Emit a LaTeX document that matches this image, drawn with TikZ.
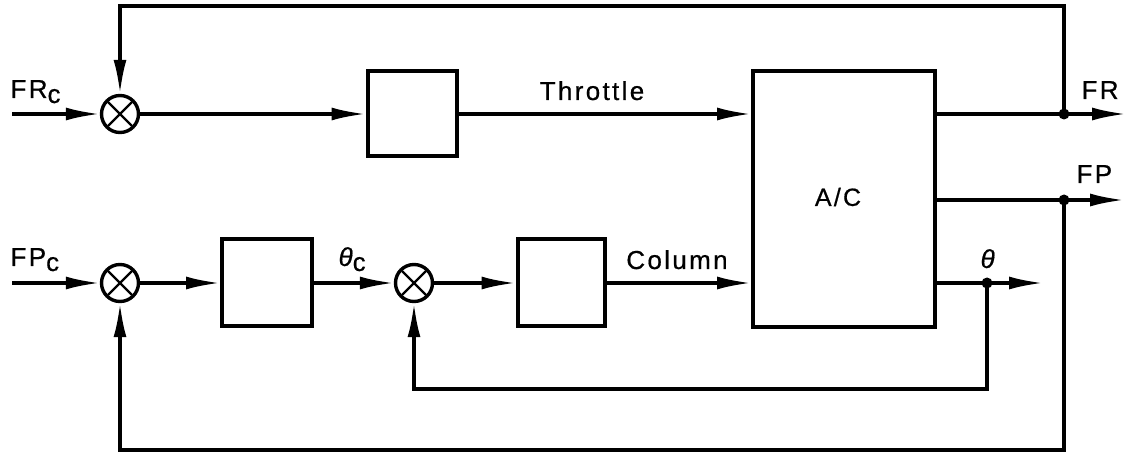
\documentclass[tikz,border=0pt]{standalone}
\usepackage{fontspec}
\setmainfont{Liberation Sans}[LetterSpace=9,FakeBold=0.6]
\usetikzlibrary{arrows.meta}
\newcommand{\subc}{\raisebox{-5pt}{c}}
\begin{document}
\begin{tikzpicture}[x=1pt,y=-1pt,
  line width=3.2pt,
  >={Latex[length=34pt,width=13pt]},
  sumnode/.style={circle,draw,line width=3.4pt,minimum size=37pt,inner sep=0pt},
  blk/.style={rectangle,draw,line width=4pt,inner sep=0pt},
  dotnode/.style={circle,fill,inner sep=0pt,minimum size=11pt},
  lbl/.style={font=\fontsize{26}{26}\selectfont,inner sep=0pt},
  crossline/.style={line width=2.4pt}
]
\useasboundingbox (0,0) rectangle (1128,454);
% summing junctions
\node[sumnode] (s1) at (120,114) {};
\node[sumnode] (s2) at (120,283) {};
\node[sumnode] (s3) at (414,283) {};
\foreach \s in {s1,s2,s3}{
  \draw[crossline] (\s.center) ++(-12,-12) -- ++(24,24);
  \draw[crossline] (\s.center) ++(-12,12) -- ++(24,-24);
}
% blocks
\node[blk,minimum width=89pt,minimum height=85pt] (b1) at (412,114) {};
\node[blk,minimum width=90pt,minimum height=87pt] (b2) at (267,283) {};
\node[blk,minimum width=87pt,minimum height=87pt] (b3) at (561,283) {};
\node[blk,minimum width=182pt,minimum height=256pt] (ac) at (844,199) {};
\node[lbl,font=\fontsize{25}{25}\selectfont] (aclbl) at (838,197) {A/C};
% coordinates
\coordinate (frcin) at (12,114);
\coordinate (fpcin) at (12,283);
\node[dotnode] (frdot) at (1064,114) {};
\node[dotnode] (fpdot) at (1064,200) {};
\node[dotnode] (thdot) at (987,283) {};
\coordinate (frend) at (1126,114);
\coordinate (fpend) at (1124,200);
\coordinate (thend) at (1043,283);
\coordinate (topL) at (120,6);
\coordinate (botL) at (120,450);
\coordinate (midL) at (414,389);
% forward paths
\draw[->] (frcin) -- (s1);
\draw[->] (s1) -- (b1);
\draw[->] (b1.east) -- (b1.east -| ac.west);
\draw[->] (fpcin) -- (s2);
\draw[->] (s2) -- (b2);
\draw[->] (b2) -- (s3);
\draw[->] (s3) -- (b3);
\draw[->] (b3.east) -- (b3.east -| ac.west);
% outputs
\draw[->] (frdot -| ac.east) -- (frend);
\draw[->] (fpdot -| ac.east) -- (fpend);
\draw[->] (thdot -| ac.east) -- (thend);
% feedback loops
\draw[->] (frdot.center) |- (topL) -- (s1);
\draw[->] (fpdot.center) |- (botL) -- (s2);
\draw[->] (thdot.center) |- (midL) -- (s3);
% labels
\node[lbl,anchor=base west] (lfrc) at (9,98) {FR\subc};
\node[lbl,anchor=base west] (lfpc) at (9,266) {FP\subc};
\node[lbl,anchor=base] (lthr) at (592,100) {Throttle};
\node[lbl,anchor=base] (lcol) at (677,269) {Column};
\node[lbl,anchor=base west] (lthc) at (337,266) {\itshape θ\upshape\subc};
\node[lbl,anchor=base west] (lth) at (979,268) {\itshape θ};
\node[lbl,anchor=base west] (lfr) at (1080,99) {FR};
\node[lbl,anchor=base west] (lfp) at (1075,183) {FP};
\end{tikzpicture}
\end{document}
